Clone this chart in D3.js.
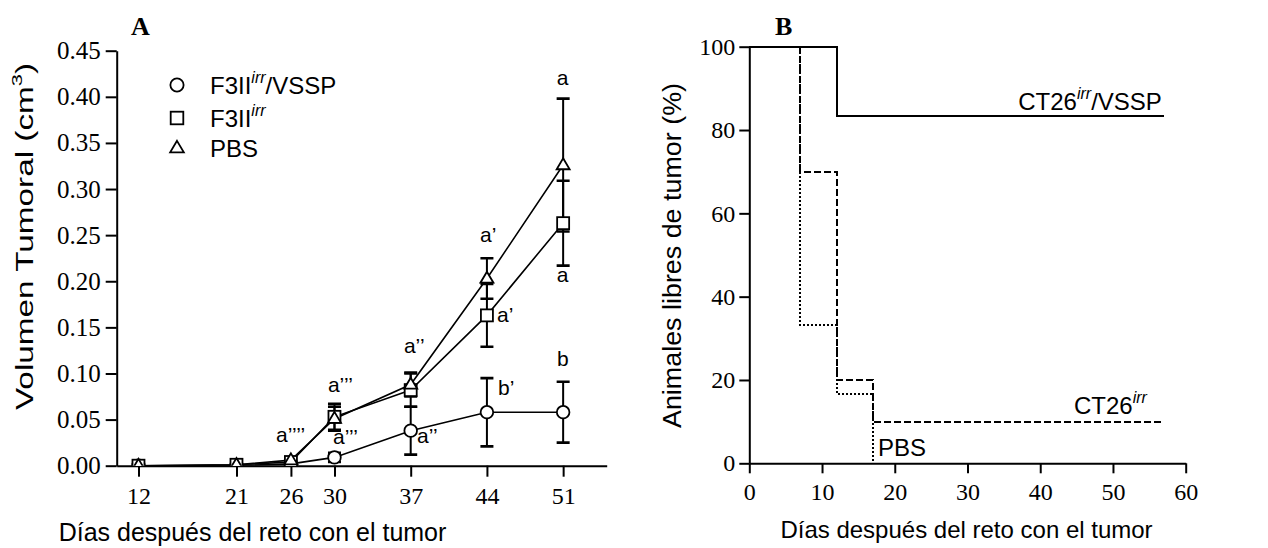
<!DOCTYPE html>
<html><head><meta charset="utf-8">
<script src="https://cdn.jsdelivr.net/npm/d3@7"></script>
<style>
body{margin:0;background:#fff;}
svg{display:block;}
.sans{font-family:"Liberation Sans",Arial,sans-serif;}
.serif{font-family:"Liberation Serif","Times New Roman",serif;}
</style></head>
<body>
<script>
// ---------- Panel A data ----------
const days = [12, 21, 26, 30, 37, 44, 51];
const yTicksA = [0, 0.05, 0.10, 0.15, 0.20, 0.25, 0.30, 0.35, 0.40, 0.45];
const vsspMean = [0, 0, 0.002, 0.009, 0.038, 0.058, 0.058];
const vsspErr  = [0, 0, 0.001, 0.005, 0.026, 0.037, 0.033];
const f3Mean   = [0, 0.001, 0.004, 0.053, 0.082, 0.163, 0.263];
const f3Err    = [0, 0, 0.001, 0.014, 0.018, 0.034, 0.046];
const pbsMean  = [0, 0.001, 0.006, 0.051, 0.088, 0.203, 0.326];
const pbsErr   = [0, 0, 0.001, 0.013, 0.013, 0.022, 0.072];
const legendNames = ["F3II", "F3II", "PBS"];
// significance letters: text, day anchor, value anchor (baseline)
const annoText  = ["a", "a\u2019", "a\u2019", "a", "b", "b\u2019", "a\u2019\u2019", "a\u2019\u2019", "a\u2019\u2019\u2019", "a\u2019\u2019\u2019", "a\u2019\u2019\u2019\u2019"];
const annoDay   = [50.41, 43.36, 44.93, 50.41, 50.44, 45.02, 36.38, 37.58, 29.40, 29.86, 24.63];
const annoValue = [0.4128, 0.2426, 0.1558, 0.1992, 0.1081, 0.0767, 0.1222, 0.0246, 0.0799, 0.0235, 0.0257];

// ---------- Panel B data ----------
const xTicksB = [0, 10, 20, 30, 40, 50, 60];
const yTicksB = [0, 20, 40, 60, 80, 100];
const vsspDaysB = [0, 12, 57];
const vsspPctB  = [100, 83.3, 83.3];
const irrDaysB  = [0, 7, 12, 17, 57];
const irrPctB   = [100, 70, 20, 10, 10];
const pbsDaysB  = [0, 7, 12, 17];
const pbsPctB   = [100, 33.3, 16.7, 0];

const svg = d3.select("body").append("svg").attr("width", 1268).attr("height", 548);

// ================= Panel A =================
const xA = d3.scaleLinear().domain([10, 55]).range([116.7, 606.7]);
const yA = d3.scaleLinear().domain([0, 0.45]).range([465.7, 50.7]);

function styleAxis(g, fs){
  g.selectAll("path").attr("stroke", "#000").attr("stroke-width", 2);
  g.selectAll("line").attr("stroke", "#000").attr("stroke-width", 2);
  g.selectAll("text").attr("class", "serif").attr("font-size", fs).attr("fill", "#000");
}

const gyA = svg.append("g").attr("transform", `translate(${xA.range()[0]},0)`)
  .call(d3.axisLeft(yA).tickValues(yTicksA).tickFormat(d3.format(".2f")).tickSize(11).tickPadding(5).tickSizeOuter(0));
styleAxis(gyA, 25);
const gxA = svg.append("g").attr("transform", `translate(0,${yA(0)})`)
  .call(d3.axisBottom(xA).tickValues(days).tickFormat(d3.format("d")).tickSize(11).tickPadding(10).tickSizeOuter(0));
styleAxis(gxA, 24);

svg.append("clipPath").attr("id", "clipA").append("rect")
  .attr("x", xA.range()[0]).attr("y", 0).attr("width", xA.range()[1] - xA.range()[0]).attr("height", yA(0));

const plotA = svg.append("g").attr("clip-path", "url(#clipA)");

const series = [
  {mean: vsspMean, err: vsspErr, shape: "circle"},
  {mean: f3Mean, err: f3Err, shape: "square"},
  {mean: pbsMean, err: pbsErr, shape: "triangle"}
];

function drawMarker(g, shape, cx, cy, s){
  if (shape === "circle") {
    g.append("circle").attr("cx", cx).attr("cy", cy).attr("r", 6.3*s)
      .attr("fill", "#fff").attr("stroke", "#000").attr("stroke-width", 1.8);
  } else if (shape === "square") {
    const h = 6*s;
    g.append("rect").attr("x", cx - h).attr("y", cy - h).attr("width", 2*h).attr("height", 2*h)
      .attr("fill", "#fff").attr("stroke", "#000").attr("stroke-width", 1.8);
  } else {
    const w = 6.5*s, ht = 11*s;
    g.append("path").attr("d", `M${cx},${cy - ht*0.62}L${cx + w},${cy + ht*0.38}L${cx - w},${cy + ht*0.38}Z`)
      .attr("fill", "#fff").attr("stroke", "#000").attr("stroke-width", 1.8);
  }
}

const lineA = d3.line().x((d, i) => xA(days[i])).y(d => yA(d));
// lines
series.forEach(s => {
  plotA.append("path").attr("d", lineA(s.mean)).attr("fill", "none").attr("stroke", "#000").attr("stroke-width", 1.6);
});
// error bars
series.forEach(s => {
  s.mean.forEach((m, i) => {
    const e = s.err[i];
    if (e <= 0.0015) return;
    const x = xA(days[i]);
    plotA.append("line").attr("x1", x).attr("x2", x).attr("y1", yA(m - e)).attr("y2", yA(m + e))
      .attr("stroke", "#000").attr("stroke-width", 2);
    [m - e, m + e].forEach(v => {
      plotA.append("line").attr("x1", x - 6.5).attr("x2", x + 6.5).attr("y1", yA(v)).attr("y2", yA(v))
        .attr("stroke", "#000").attr("stroke-width", 2.6);
    });
  });
});
// markers
series.forEach(s => {
  s.mean.forEach((m, i) => drawMarker(plotA, s.shape, xA(days[i]), yA(m), 1));
});

// annotations
annoText.forEach((t, i) => {
  svg.append("text").attr("class", "sans").attr("font-size", 21)
    .attr("x", xA(annoDay[i])).attr("y", yA(annoValue[i])).text(t);
});

// legend
const legY = [85, 118, 148];
const legBase = [94, 126.5, 157];
["circle", "square", "triangle"].forEach((sh, i) => drawMarker(svg, sh, 177, legY[i], 1.05));
legendNames.forEach((n, i) => {
  const t = svg.append("text").attr("class", "sans").attr("font-size", 24).attr("x", 210).attr("y", legBase[i]);
  t.append("tspan").text(n);
  if (i < 2) {
    t.append("tspan").attr("font-size", 16).attr("font-style", "italic").attr("dy", -11).text("irr");
    if (i === 0) t.append("tspan").attr("dy", 11).text("/VSSP");
  }
});

// axis titles A
svg.append("text").attr("class", "serif").attr("font-weight", "bold").attr("font-size", 26)
  .attr("x", 131).attr("y", 35).text("A");
svg.append("text").attr("class", "sans").attr("font-size", 25).attr("text-anchor", "middle")
  .attr("x", 252.5).attr("y", 541).text("Días después del reto con el tumor");
const ylabA = svg.append("text").attr("class", "sans").attr("font-size", 23)
  .attr("transform", "translate(33,410) rotate(-90)")
  .attr("textLength", 347).attr("lengthAdjust", "spacingAndGlyphs");
ylabA.append("tspan").text("Volumen Tumoral (cm");
ylabA.append("tspan").attr("font-size", 15).attr("dy", -11).text("3");
ylabA.append("tspan").attr("dy", 11).text(")");

// ================= Panel B =================
const xB = d3.scaleLinear().domain([0, 60]).range([749.3, 1185.7]);
const yB = d3.scaleLinear().domain([0, 100]).range([463.3, 46.7]);

const gyB = svg.append("g").attr("transform", `translate(${xB(0)},0)`)
  .call(d3.axisLeft(yB).tickValues(yTicksB).tickFormat(d3.format("d")).tickSize(10).tickPadding(4).tickSizeOuter(0));
styleAxis(gyB, 24);
const gxB = svg.append("g").attr("transform", `translate(0,${yB(0)})`)
  .call(d3.axisBottom(xB).tickValues(xTicksB).tickFormat(d3.format("d")).tickSize(10).tickPadding(10).tickSizeOuter(0));
styleAxis(gxB, 24);

const stepLine = (ds) => d3.line().curve(d3.curveStepAfter).x((d, i) => xB(ds[i])).y(d => yB(d));
svg.append("path").attr("d", stepLine(pbsDaysB)(pbsPctB)).attr("fill", "none")
  .attr("stroke", "#000").attr("stroke-width", 2).attr("stroke-dasharray", "2,2")
  .attr("shape-rendering", "crispEdges");
svg.append("path").attr("d", stepLine(irrDaysB)(irrPctB)).attr("fill", "none")
  .attr("stroke", "#000").attr("stroke-width", 2).attr("stroke-dasharray", "7,3")
  .attr("shape-rendering", "crispEdges");
svg.append("path").attr("d", stepLine(vsspDaysB)(vsspPctB)).attr("fill", "none")
  .attr("stroke", "#000").attr("stroke-width", 2).attr("shape-rendering", "crispEdges");

// curve labels
function supLabel(x, y, anchor, base, sup, tail){
  const t = svg.append("text").attr("class", "sans").attr("font-size", 24)
    .attr("x", x).attr("y", y).attr("text-anchor", anchor);
  t.append("tspan").text(base);
  if (sup) t.append("tspan").attr("font-size", 16).attr("font-style", "italic").attr("dy", -11).text(sup);
  if (tail) t.append("tspan").attr("dy", 11).text(tail);
}
supLabel(xB(57) - 2, yB(vsspPctB[2]) - 6, "end", "CT26", "irr", "/VSSP");
supLabel(xB(57) - 17, yB(irrPctB[4]) - 8, "end", "CT26", "irr", null);
supLabel(xB(17) + 5, 456, "start", "PBS", null, null);

svg.append("text").attr("class", "serif").attr("font-weight", "bold").attr("font-size", 26)
  .attr("x", 775).attr("y", 35).text("B");
svg.append("text").attr("class", "sans").attr("font-size", 24).attr("text-anchor", "middle")
  .attr("x", 966.5).attr("y", 538).text("Días después del reto con el tumor");
svg.append("text").attr("class", "sans").attr("font-size", 26).attr("text-anchor", "middle")
  .attr("transform", "translate(681,255.5) rotate(-90)")
  .attr("textLength", 345).attr("lengthAdjust", "spacingAndGlyphs")
  .text("Animales libres de tumor (%)");
</script>
</body></html>
